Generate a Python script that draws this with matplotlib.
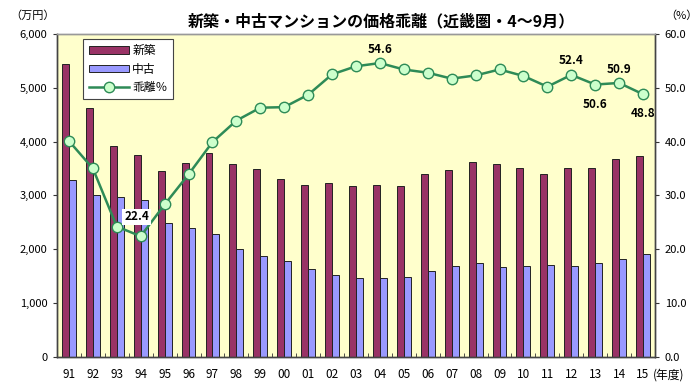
import matplotlib
matplotlib.use("Agg")
import matplotlib.pyplot as plt
import numpy as np

plt.rcParams['font.family'] = ['Noto Sans CJK JP', 'DejaVu Sans']

years = ["91","92","93","94","95","96","97","98","99","00","01","02","03",
         "04","05","06","07","08","09","10","11","12","13","14","15"]
shinchiku = [5450, 4620, 3920, 3745, 3445, 3607, 3780, 3590, 3490, 3296, 3197, 3222, 3182,
             3197, 3180, 3390, 3470, 3625, 3575, 3508, 3390, 3508, 3508, 3675, 3725]
chuko = [3277, 3005, 2968, 2905, 2477, 2384, 2285, 2011, 1875, 1776, 1639, 1527, 1471,
         1471, 1490, 1602, 1683, 1739, 1665, 1683, 1702, 1683, 1739, 1810, 1912]
kairi = [40.1, 35.0, 24.2, 22.4, 28.3, 33.9, 39.9, 43.9, 46.3, 46.4, 48.7, 52.5, 54.0,
         54.6, 53.4, 52.8, 51.7, 52.3, 53.4, 52.2, 50.2, 52.4, 50.6, 50.9, 48.8]

labels = {3: ("22.4", -3, 14), 13: ("54.6", 0, 10), 21: ("52.4", 0, 10),
          22: ("50.6", 0, -14), 23: ("50.9", 0, 10), 24: ("48.8", 0, -14)}

fig = plt.figure(figsize=(7, 3.89), dpi=100)
ax = fig.add_axes([0.0814, 0.083, 0.8543, 0.8296])
ax.set_facecolor('#FFFFCC')
x = np.arange(len(years))
w = 0.29
b1 = ax.bar(x - w/2, shinchiku, w, color='#993366', edgecolor='#222222', linewidth=0.7, label='新築', zorder=2)
b2 = ax.bar(x + w/2, chuko, w, color='#9999FF', edgecolor='#222222', linewidth=0.7, label='中古', zorder=2)
ax.set_xlim(-0.5, len(years) - 0.5)
ax.set_ylim(0, 6000)
ax.set_yticks(np.arange(0, 6001, 1000))
ax.set_yticklabels([f"{v:,}" for v in range(0, 6001, 1000)], fontsize=8)
ax.set_xticks(x)
ax.set_xticklabels(years, fontsize=8.5)
ax.set_xticks(np.arange(-0.5, len(years), 1), minor=True)
ax.tick_params(axis='x', which='major', length=0, pad=8)
ax.tick_params(axis='x', which='minor', direction='in', length=3, color='#333333')
ax.tick_params(axis='y', direction='out', length=3, color='#333333', pad=4)

ax2 = ax.twinx()
ax2.set_ylim(0, 60)
ax2.set_yticks(np.arange(0, 61, 10))
ax2.set_yticklabels([f"{v:.1f}" for v in range(0, 61, 10)], fontsize=8)
ax2.tick_params(axis='y', direction='out', length=3, color='#333333', pad=4)
ln, = ax2.plot(x, kairi, color='#2E8B57', linewidth=1.8, marker='o', markersize=7.5,
               markerfacecolor='#CCFFCC', markeredgecolor='#2E8B57', markeredgewidth=1.0,
               label='乖離％', zorder=3)
for i, (t, dx, dy) in labels.items():
    kw = {}
    if i == 3:
        kw = dict(bbox=dict(boxstyle='square,pad=0.15', facecolor='white', edgecolor='none'))
    ax2.annotate(t, (x[i], kairi[i]), xytext=(dx, dy), textcoords='offset points',
                 ha='center', va='center', fontsize=8.5, fontweight='bold', **kw)

for a in (ax, ax2):
    for s in a.spines.values():
        s.set_color('#444444')
        s.set_linewidth(1.0)
    a.spines['top'].set_color('#999999')

leg = ax2.legend([b1, b2, ln], ['新築', '中古', '乖離％'], loc='upper left',
                 bbox_to_anchor=(0.04, 0.992), fontsize=8.5, frameon=True, fancybox=False,
                 edgecolor='#444444', facecolor='white', framealpha=1,
                 handlelength=3.4, handleheight=0.6, borderpad=0.45, labelspacing=0.45,
                 handletextpad=0.3, borderaxespad=0.2)
leg.get_frame().set_linewidth(0.8)

fig.text(0.545, 0.945, '新築・中古マンションの価格乖離（近畿圏・4～9月）', ha='center', va='center',
         fontsize=11.5, fontweight='bold')
fig.text(0.015, 0.96, '（万円）', ha='left', va='center', fontsize=8)
fig.text(0.95, 0.96, '（%）', ha='left', va='center', fontsize=8)
fig.text(0.933, 0.035, '(年度)', ha='left', va='center', fontsize=8.5)

fig.savefig('out.png', dpi=100)
